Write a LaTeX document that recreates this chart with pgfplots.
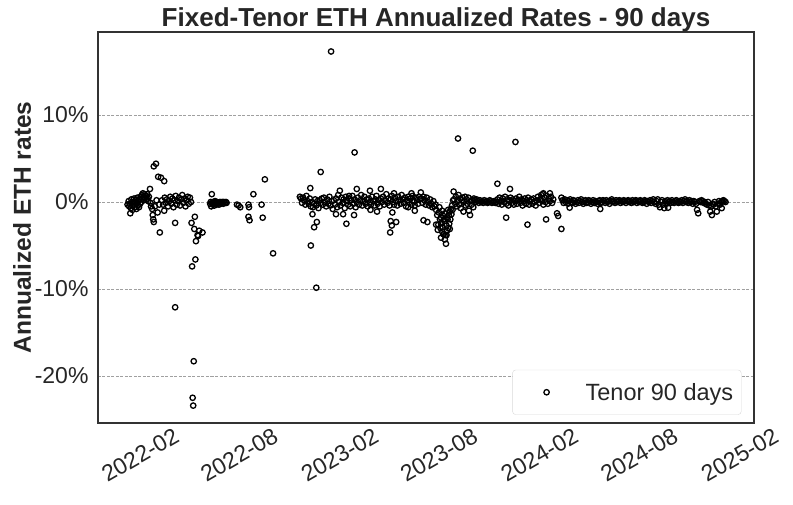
\documentclass[border=0pt]{standalone}
\usepackage{fontspec}
\setmainfont{Liberation Sans}
\usepackage{pgfplots}
\usepackage{pgfplotstable}
\pgfplotsset{compat=1.18}
\definecolor{txt}{HTML}{262626}
\definecolor{frame}{HTML}{333333}
\definecolor{gridc}{HTML}{A0A0A0}
\definecolor{legedge}{HTML}{D8D8D8}

% x = days since 2022-02-01, y = annualized rate in %
\pgfplotstableread{
x y
-23 -0.3
-18 -1.3
-21 0.1
-20 -0.5
-19 -0.2
-17 -0.7
-16 0.3
-15 -0.4
-14 -0.9
-13 0.0
-12 -0.3
-11 0.4
-10 -0.6
-9 -0.1
-8 0.2
-7 -0.8
-6 -0.2
-5 0.5
-4 -0.4
-3 0.1
-2 -0.6
-1 0.3
0 -0.2
1 0.6
2 0.0
3 0.8
4 0.4
5 1.0
6 0.6
7 0.2
8 0.9
9 0.5
11 0.7
12 0.3
13 0.9
14 0.4
15 0.1
16 0.6
18 1.5
19 -0.1
20 -0.5
22 -0.8
23 -1.5
24 -2.0
25 -2.3
25 4.1
29 4.4
33 2.9
38 2.8
44 2.4
36 -3.5
32 -1.2
44 -1.0
64 -2.4
64 -12.1
27 -0.5
30 0.2
35 -0.3
40 0.2
42 -0.3
45 0.5
47 -0.1
49 0.3
51 -0.5
53 0.1
55 0.6
57 -0.2
59 0.4
61 -0.6
63 0.2
65 0.7
67 -0.3
69 0.1
71 0.5
73 -0.4
75 0.3
77 0.8
79 -0.1
81 0.4
83 -0.5
85 0.2
87 0.6
89 -0.2
91 0.5
93 0.0
94 -2.4
95 -7.4
96 -22.5
97 -23.4
98 -18.3
99 -3.1
100 -1.7
101 -6.6
102 -4.5
105 -3.8
106 -3.9
108 -3.3
114 -3.5
128 -0.2
129 0.0
130 -0.5
131 0.9
132 -0.1
133 -0.3
134 0.0
135 -0.2
136 -0.4
137 0.1
138 -0.1
139 -0.3
140 0.0
141 -0.2
143 -0.1
144 -0.3
146 0.0
147 -0.2
149 -0.1
150 0.0
152 -0.2
153 0.0
155 -0.1
157 0.0
158 -0.1
177 -0.3
180 -0.4
183 -0.6
198 -0.3
199 -0.6
200 -2.1
198 -1.7
207 0.9
222 -0.3
224 -1.8
228 2.6
243 -5.9
311 1.6
312 -5.0
315 -1.4
318 -2.9
322 -9.85
323 -2.3
330 3.45
349 17.3
358 -1.4
365 1.3
371 -1.4
377 -2.5
382 0.7
391 -1.5
392 5.7
396 1.5
420 1.3
421 -0.9
433 -1.1
440 1.5
457 -3.5
458 -2.2
460 -2.7
461 -1.2
468 -2.3
464 1.0
490 -0.6
496 1.0
502 -1.0
513 1.1
518 -2.1
525 -2.3
292 0.6
294 0.4
296 -0.1
298 0.5
300 0.2
302 -0.3
304 0.7
306 0.1
308 -0.2
310 0.4
312 -0.5
314 0.0
316 -0.6
318 -0.2
320 0.3
322 -0.4
324 0.1
326 -0.7
328 0.2
330 -0.1
332 0.4
334 -0.3
336 0.5
338 0.0
340 -0.5
342 0.3
344 -0.2
346 0.6
348 -0.4
350 0.1
352 -0.8
354 0.2
356 -0.3
358 0.4
360 -0.6
362 0.8
364 0.0
366 -0.4
368 0.5
370 -0.1
372 0.3
374 -0.7
376 0.6
378 0.1
380 -0.3
382 0.4
384 -0.5
386 0.2
388 0.7
390 -0.2
392 0.3
394 -0.6
396 0.0
398 0.5
400 -0.3
402 0.2
404 0.8
406 -0.4
408 0.1
410 0.6
412 -0.2
414 0.3
416 -0.5
418 0.4
420 0.0
422 -0.3
424 0.6
426 0.1
428 -0.4
430 0.3
432 0.7
434 -0.2
436 0.2
438 -0.5
440 0.4
442 0.0
444 0.6
446 -0.3
448 0.2
450 0.9
452 -0.1
454 0.4
456 -0.4
458 0.3
460 0.7
462 0.0
464 -0.3
466 0.5
468 0.1
470 -0.4
472 0.6
474 0.2
476 -0.2
478 0.8
480 0.3
482 -0.1
484 0.5
486 -0.5
488 0.2
490 0.6
492 0.0
494 0.4
496 -0.3
498 0.7
500 0.1
502 -0.4
504 0.5
506 0.2
508 -0.2
510 0.6
512 0.3
514 0.4
516 -0.1
518 0.6
520 0.2
522 -0.3
524 0.5
526 0.0
528 -0.4
530 0.3
532 -0.2
534 -0.6
536 0.1
538 -0.5
540 -0.3
541 -0.9
541 -2.6
543 -1.5
544 -3.2
545 -2.6
546 -1.2
547 -0.6
548 -2.0
549 -3.0
550 -1.8
550 -4.1
551 -2.4
552 -3.4
552 -1.0
553 -2.9
554 -1.6
554 -3.7
555 -3.7
555 -2.0
556 -2.2
557 -4.3
557 -1.3
558 -3.8
559 -4.8
560 -3.8
560 -2.7
561 -3.3
561 -1.8
562 -2.0
563 -3.0
563 -0.9
564 -1.5
565 -2.5
566 -1.1
566 -3.1
567 -2.0
568 -0.8
569 -1.4
570 -0.4
571 -0.9
572 0.2
573 1.2
574 0.3
576 -0.2
577 0.6
579 -0.5
580 0.1
582 0.8
583 -0.3
585 0.4
586 -0.7
588 0.2
589 0.5
591 -1.1
592 0.0
594 0.6
595 -0.4
597 0.3
598 -0.2
600 0.5
601 -1.0
603 -1.5
604 0.1
606 -0.3
607 0.2
609 -0.6
610 0.4
581 7.3
608 5.9
611 0.2
613 0.0
615 0.3
617 0.1
619 -0.1
621 0.2
623 0.0
625 0.1
627 -0.1
629 0.2
631 0.0
633 0.1
635 -0.1
637 0.0
639 0.2
641 0.1
643 -0.1
645 0.0
647 0.1
649 -0.1
651 0.0
653 2.1
676 1.5
669 -1.8
686 6.9
708 -2.6
736 0.9
742 -2.0
737 1.0
749 1.0
762 -1.3
764 -1.6
770 -3.1
653 0.3
655 -0.2
657 0.5
659 0.1
661 -0.3
663 0.4
665 0.0
667 0.6
669 -0.2
671 0.3
673 -0.4
675 0.2
677 0.5
679 -0.1
681 0.3
683 -0.3
685 0.1
687 0.4
689 -0.2
691 0.2
693 0.6
695 -0.1
697 0.3
699 -0.4
701 0.1
703 0.4
705 -0.2
707 0.2
709 0.5
711 -0.3
713 0.1
715 0.3
717 -0.2
719 0.4
721 0.0
723 -0.4
725 0.2
727 0.6
729 -0.1
731 0.3
733 0.8
735 0.1
737 -0.3
739 0.5
741 0.0
743 0.7
745 -0.2
747 0.4
749 0.1
751 0.6
753 -0.1
755 0.3
770 0.5
772 0.2
774 -0.1
776 0.3
778 0.0
780 0.2
782 -0.2
785 -0.65
784 0.1
786 0.3
788 0.0
790 -0.1
792 0.2
794 0.1
796 -0.2
798 0.0
800 0.2
802 -0.1
804 0.1
806 0.3
808 0.0
810 -0.2
812 0.1
814 0.2
816 -0.1
818 0.0
820 0.2
822 0.1
824 -0.2
826 0.0
828 0.2
830 -0.1
832 0.1
834 0.0
836 -0.2
838 0.1
841 -0.8
840 0.2
842 -0.1
844 0.0
846 0.2
848 0.1
850 -0.1
852 0.2
854 0.0
856 0.1
858 -0.2
860 0.1
862 0.3
864 0.0
866 0.1
868 -0.1
870 0.2
872 0.0
874 0.1
876 0.2
878 -0.1
880 0.1
882 0.0
884 0.2
886 0.1
888 -0.1
890 0.1
892 0.2
894 0.0
896 0.1
898 -0.1
900 0.2
902 0.0
904 0.1
906 0.2
908 -0.1
910 0.1
912 0.0
914 0.2
916 0.1
918 -0.1
920 0.0
922 0.2
924 0.1
926 -0.2
928 0.1
930 0.0
932 0.2
934 -0.1
936 0.1
938 0.3
940 0.0
942 -0.2
944 0.1
946 0.3
948 -0.3
950 -0.6
952 0.0
954 0.2
956 -0.3
958 -0.7
960 0.1
962 -0.2
965 -0.65
964 0.2
966 0.0
968 0.1
970 -0.1
972 0.2
974 0.0
976 -0.1
978 0.1
980 0.2
982 0.0
984 -0.1
986 0.1
988 0.0
990 0.2
992 -0.1
994 0.1
996 0.3
998 0.0
1000 0.1
1002 -0.1
1004 0.2
1006 0.0
1008 0.1
1010 -0.2
1012 0.1
1014 0.0
1016 -0.2
1018 -0.9
1020 -1.3
1022 0.1
1024 0.0
1026 0.2
1028 0.1
1030 -0.1
1032 0.0
1034 -0.2
1036 -0.3
1038 0.0
1040 -0.4
1042 -1.1
1044 -0.5
1045 -1.5
1046 -0.2
1048 -0.3
1050 0.0
1052 -0.5
1054 -1.1
1056 -0.2
1058 0.1
1060 -0.3
1062 0.0
1063 -0.7
1064 0.1
1066 0.2
1068 0.1
1070 0.0
}\ratestable

\begin{document}
\begin{tikzpicture}
\path[use as bounding box] (-98pt,-82pt) rectangle (695pt,423pt);
\begin{axis}[
  at={(0pt,0pt)}, anchor=south west,
  scale only axis, width=656pt, height=391pt,
  xmin=-77, xmax=1122, ymin=-25.4, ymax=19.54,
  axis line style={frame, line width=1.2pt},
  xtick={0,181,365,546,730,912,1096},
  xticklabels={2022-02,2022-08,2023-02,2023-08,2024-02,2024-08,2025-02},
  ytick={-20,-10,0,10},
  yticklabels={-20\%,-10\%,0\%,10\%},
  major tick length=0pt,
  /pgf/number format/assume math mode=true,
  ticklabel style={font=\fontsize{23}{27}\selectfont, text=txt},
  xticklabel style={rotate=30, anchor=center, xshift=-16pt, yshift=-27.7pt},
  yticklabel style={xshift=-6pt},
  ymajorgrids=true,
  grid style={gridc, line width=0.8pt, dash pattern=on 3pt off 1.5pt},
  title={Fixed-Tenor ETH Annualized Rates - 90 days},
  title style={font=\bfseries\fontsize{26}{31}\selectfont, text=txt, at={(axis description cs:0.5,1)}, anchor=south, yshift=-9pt, xshift=10pt},
  ylabel={Annualized ETH rates},
  ylabel style={font=\bfseries\fontsize{24.5}{29}\selectfont, text=txt, at={(axis description cs:0,0.5)}, anchor=center, yshift=76pt},
  legend style={at={(axis cs:1099,-24.45)}, anchor=south east, draw=legedge, rounded corners=3pt, fill=white, font=\fontsize{23.5}{28}\selectfont, text=txt, inner xsep=6pt, inner ysep=11pt},
  legend cell align=left,
  legend image code/.code={\path[draw=none] (0pt,0pt) (65pt,0pt); \draw[#1] plot coordinates {(28pt,0pt)};},
]
\addplot[only marks, mark=o, mark size=2.7pt, mark options={line width=1.3pt, draw=black}] table[x=x, y=y] {\ratestable};
\addlegendentry{Tenor 90 days}
\end{axis}
\end{tikzpicture}
\end{document}
